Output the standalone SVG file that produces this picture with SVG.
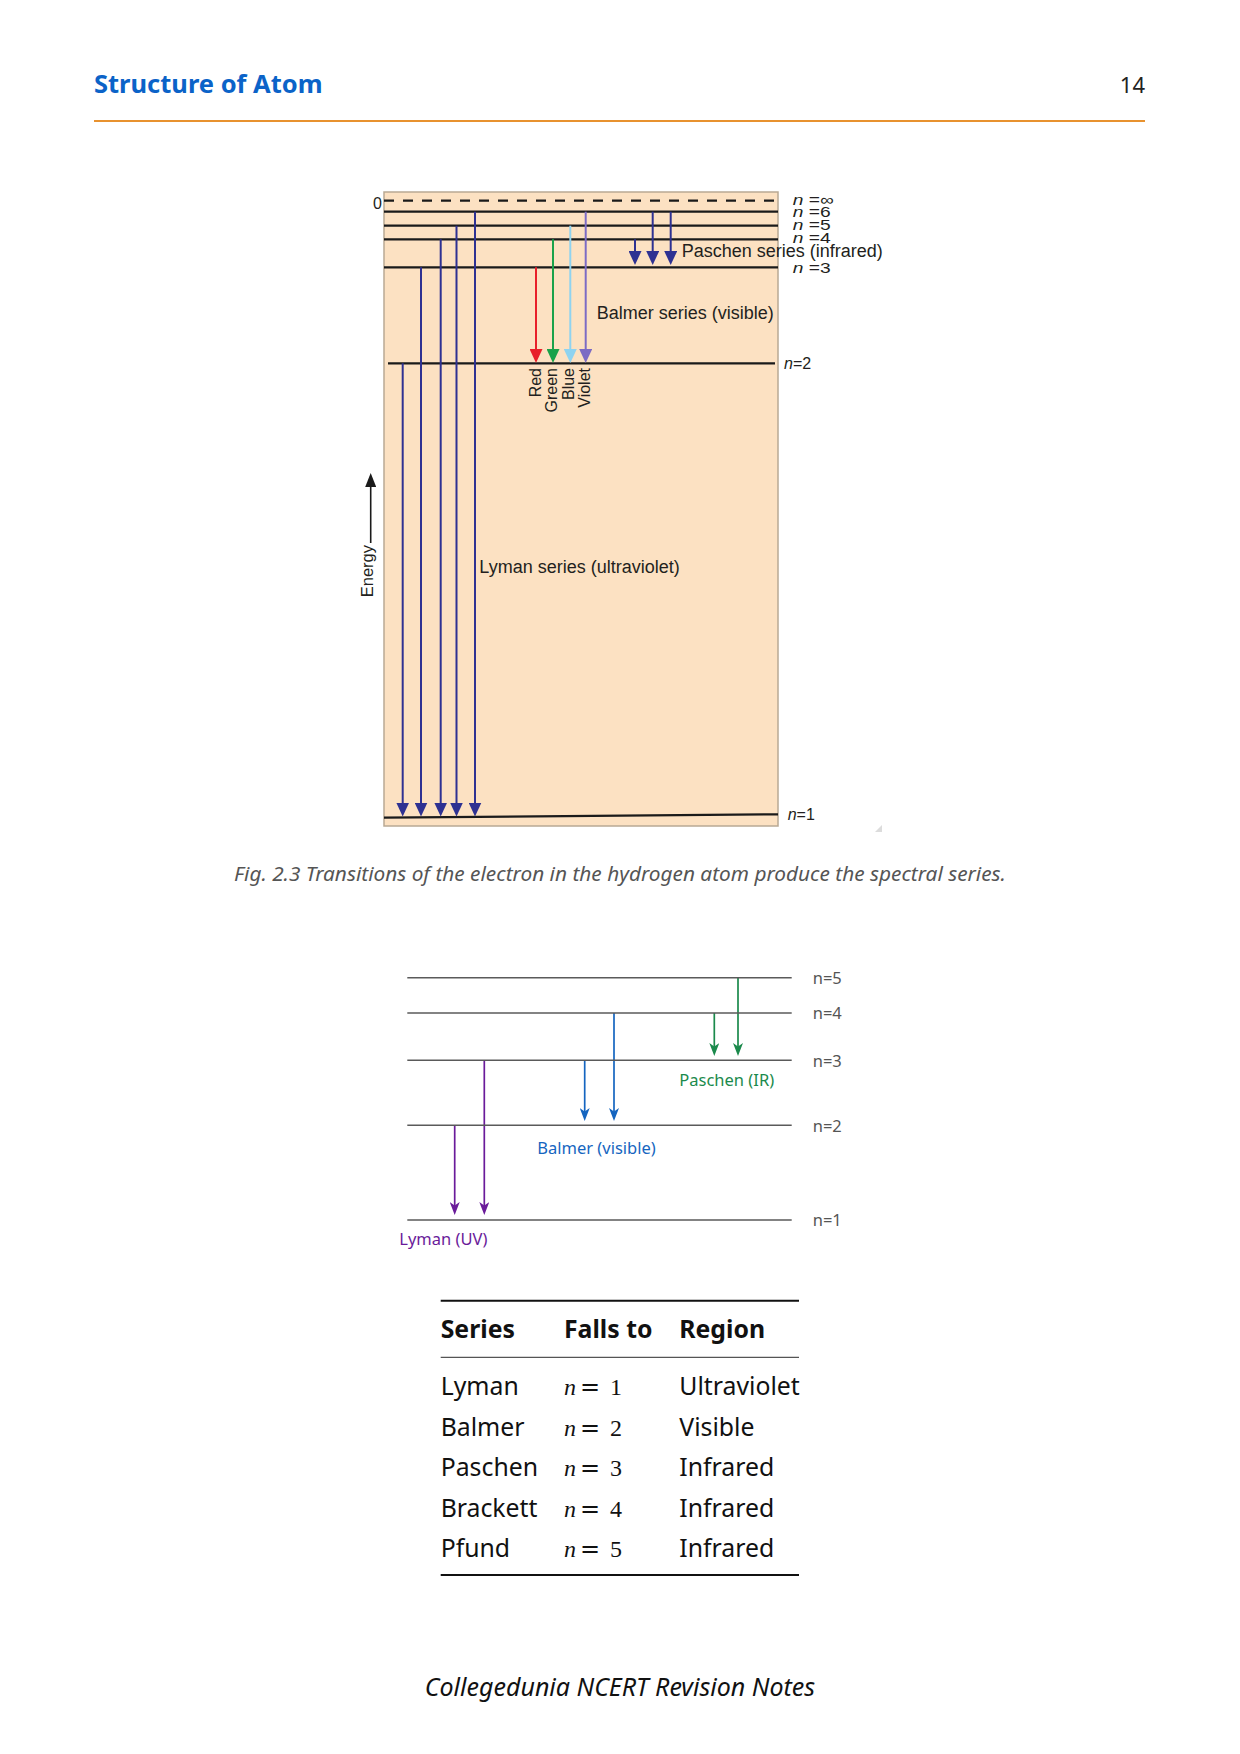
<svg xmlns="http://www.w3.org/2000/svg" width="1240" height="1754" viewBox="0 0 1240 1754">
<style>
  .hdr{font-family:"Noto Sans","Open Sans",sans-serif}
  .ar{font-family:"Liberation Sans",Arial,sans-serif;fill:#231F20}
  .lvl{stroke:#1A1A1A;stroke-width:2.2;fill:none}
  .ly{stroke:#2E3192;stroke-width:2;fill:none}
  .lv2{stroke:#5A5A5A;stroke-width:1.5;fill:none}
  .ns{font-family:"Noto Sans","Open Sans",sans-serif}
  .tb{font-family:"Noto Sans","Open Sans",sans-serif;font-size:24.8px;fill:#111}
  .mt{font-family:"Liberation Serif","DejaVu Serif",serif;font-size:24px;fill:#111}
  .eq{font-family:"DejaVu Serif","Liberation Serif",serif}
</style>
<defs>
  <marker id="mNavy" markerUnits="userSpaceOnUse" viewBox="0 0 14 13" markerWidth="14" markerHeight="13" refX="8" refY="6.5" orient="auto"><path d="M0,0 L14,6.5 L0,13 z" fill="#2E3192"/></marker>
  <marker id="mRed" markerUnits="userSpaceOnUse" viewBox="0 0 14 13" markerWidth="14" markerHeight="13" refX="8" refY="6.5" orient="auto"><path d="M0,0 L14,6.5 L0,13 z" fill="#E8202A"/></marker>
  <marker id="mGreen" markerUnits="userSpaceOnUse" viewBox="0 0 14 13" markerWidth="14" markerHeight="13" refX="8" refY="6.5" orient="auto"><path d="M0,0 L14,6.5 L0,13 z" fill="#1AA24A"/></marker>
  <marker id="mBlue" markerUnits="userSpaceOnUse" viewBox="0 0 14 13" markerWidth="14" markerHeight="13" refX="8" refY="6.5" orient="auto"><path d="M0,0 L14,6.5 L0,13 z" fill="#8FD3F0"/></marker>
  <marker id="mViolet" markerUnits="userSpaceOnUse" viewBox="0 0 14 13" markerWidth="14" markerHeight="13" refX="8" refY="6.5" orient="auto"><path d="M0,0 L14,6.5 L0,13 z" fill="#7C6BC4"/></marker>
  <marker id="mBlack" markerUnits="userSpaceOnUse" viewBox="0 0 14 11" markerWidth="14" markerHeight="11" refX="8" refY="5.5" orient="auto"><path d="M0,0 L14,5.5 L0,11 z" fill="#1A1A1A"/></marker>
  <marker id="sPurple" markerUnits="userSpaceOnUse" viewBox="0 0 13 10" markerWidth="13" markerHeight="10" refX="9" refY="5" orient="auto"><path d="M0,0 L13,5 L0,10 L3.5,5 z" fill="#6A1B9A"/></marker>
  <marker id="sBlue" markerUnits="userSpaceOnUse" viewBox="0 0 13 10" markerWidth="13" markerHeight="10" refX="9" refY="5" orient="auto"><path d="M0,0 L13,5 L0,10 L3.5,5 z" fill="#1565C0"/></marker>
  <marker id="sGreen" markerUnits="userSpaceOnUse" viewBox="0 0 13 10" markerWidth="13" markerHeight="10" refX="9" refY="5" orient="auto"><path d="M0,0 L13,5 L0,10 L3.5,5 z" fill="#1B8A4C"/></marker>
</defs>
<rect width="1240" height="1754" fill="#FFFFFF"/>

<g id="header">
  <text class="hdr" x="94" y="93" font-size="25.5" font-weight="bold" fill="#0B63C8">Structure of Atom</text>
  <text class="hdr" x="1145" y="93" font-size="22" fill="#222" text-anchor="end">14</text>
  <line x1="94" y1="121" x2="1145" y2="121" stroke="#E8922F" stroke-width="2"/>
</g>

<g id="figure-2-3">
  <rect id="panel" x="384" y="192" width="394" height="634" fill="#FCE1C2" stroke="#B9A994" stroke-width="1.5"/>
  <g id="levels">
    <line class="lvl" x1="384" y1="200.7" x2="777" y2="200.7" stroke-dasharray="10 9"/>
    <line class="lvl" x1="384" y1="211.7" x2="778" y2="211.7"/>
    <line class="lvl" x1="384" y1="225.7" x2="778" y2="225.7"/>
    <line class="lvl" x1="384" y1="239.3" x2="778" y2="239.3"/>
    <line class="lvl" x1="384" y1="267.3" x2="778" y2="267.3"/>
    <line class="lvl" x1="388" y1="363.3" x2="775" y2="363.3" stroke-width="1.8"/>
    <line class="lvl" x1="384" y1="817.7" x2="778" y2="814.3"/>
  </g>
  <g id="level-labels" class="ar" font-size="15">
    <text x="382" y="209" font-size="16" text-anchor="end">0</text>
    <text transform="translate(792.7,205) scale(1.28,1)"><tspan font-style="italic">n</tspan> =∞</text>
    <text transform="translate(792.7,217) scale(1.28,1)"><tspan font-style="italic">n</tspan> =6</text>
    <text transform="translate(792.7,230) scale(1.28,1)"><tspan font-style="italic">n</tspan> =5</text>
    <text transform="translate(792.7,243.3) scale(1.28,1)"><tspan font-style="italic">n</tspan> =4</text>
    <text transform="translate(792.7,272.7) scale(1.28,1)"><tspan font-style="italic">n</tspan> =3</text>
    <text x="784" y="369" font-size="16"><tspan font-style="italic">n</tspan>=2</text>
    <text x="787.7" y="820" font-size="16"><tspan font-style="italic">n</tspan>=1</text>
  </g>
  <g id="series-labels" class="ar" font-size="18">
    <text x="681.7" y="257.3">Paschen series (infrared)</text>
    <text x="596.7" y="319">Balmer series (visible)</text>
    <text x="479.3" y="572.7">Lyman series (ultraviolet)</text>
  </g>
  <g id="colour-labels" class="ar" font-size="16" text-anchor="end">
    <text transform="translate(541,368) rotate(-90)">Red</text>
    <text transform="translate(557,368) rotate(-90)">Green</text>
    <text transform="translate(573.5,368) rotate(-90)">Blue</text>
    <text transform="translate(589.5,368) rotate(-90)">Violet</text>
  </g>
  <g id="energy-axis">
    <text class="ar" font-size="16.5" text-anchor="end" transform="translate(373,545) rotate(-90)">Energy</text>
    <line x1="370.7" y1="543" x2="370.7" y2="479" stroke="#1A1A1A" stroke-width="1.6" marker-end="url(#mBlack)"/>
  </g>
  <polygon points="882,825 882,832 875,832" fill="#DCDCDC"/>
</g>

<g id="connectors">
  <g id="lyman-arrows" class="ly">
    <line x1="402.7" y1="363.3" x2="402.7" y2="810.5" marker-end="url(#mNavy)"/>
    <line x1="421" y1="267.3" x2="421" y2="810.5" marker-end="url(#mNavy)"/>
    <line x1="440.7" y1="239.3" x2="440.7" y2="810.5" marker-end="url(#mNavy)"/>
    <line x1="456.5" y1="225.7" x2="456.5" y2="810.5" marker-end="url(#mNavy)"/>
    <line x1="475" y1="211.7" x2="475" y2="810.5" marker-end="url(#mNavy)"/>
  </g>
  <g id="balmer-arrows" stroke-width="2" fill="none">
    <line x1="536" y1="267.3" x2="536" y2="357" stroke="#E8202A" marker-end="url(#mRed)"/>
    <line x1="553" y1="239.3" x2="553" y2="357" stroke="#1AA24A" marker-end="url(#mGreen)"/>
    <line x1="570.3" y1="225.7" x2="570.3" y2="357" stroke="#8FD3F0" marker-end="url(#mBlue)"/>
    <line x1="585.7" y1="211.7" x2="585.7" y2="357" stroke="#7C6BC4" marker-end="url(#mViolet)"/>
  </g>
  <g id="paschen-arrows" class="ly">
    <line x1="635" y1="239.3" x2="635" y2="259" marker-end="url(#mNavy)"/>
    <line x1="652.7" y1="211.7" x2="652.7" y2="259" marker-end="url(#mNavy)"/>
    <line x1="670.7" y1="211.7" x2="670.7" y2="259" marker-end="url(#mNavy)"/>
  </g>
  <g id="simple-arrows" stroke-width="1.7" fill="none">
    <line x1="454.7" y1="1125.3" x2="454.7" y2="1211" stroke="#6A1B9A" marker-end="url(#sPurple)"/>
    <line x1="484.3" y1="1060.3" x2="484.3" y2="1211" stroke="#6A1B9A" marker-end="url(#sPurple)"/>
    <line x1="584.7" y1="1060.3" x2="584.7" y2="1117" stroke="#1565C0" marker-end="url(#sBlue)"/>
    <line x1="614" y1="1013" x2="614" y2="1117" stroke="#1565C0" marker-end="url(#sBlue)"/>
    <line x1="714.3" y1="1013" x2="714.3" y2="1052" stroke="#1B8A4C" marker-end="url(#sGreen)"/>
    <line x1="738" y1="977.7" x2="738" y2="1052" stroke="#1B8A4C" marker-end="url(#sGreen)"/>
  </g>
</g>

<g id="caption">
  <text class="ns" x="620" y="881" font-size="20.8" font-style="italic" fill="#555" text-anchor="middle">Fig. 2.3 Transitions of the electron in the hydrogen atom produce the spectral series.</text>
</g>

<g id="simple-diagram">
  <g id="simple-levels">
    <line class="lv2" x1="407.3" y1="977.7" x2="791.7" y2="977.7"/>
    <line class="lv2" x1="407.3" y1="1013" x2="791.7" y2="1013"/>
    <line class="lv2" x1="407.3" y1="1060.3" x2="791.7" y2="1060.3"/>
    <line class="lv2" x1="407.3" y1="1125.3" x2="791.7" y2="1125.3"/>
    <line class="lv2" x1="407.3" y1="1220" x2="791.7" y2="1220"/>
  </g>
  <g id="simple-level-labels" class="ns" font-size="16.5" fill="#555">
    <text x="812.7" y="983.5">n=5</text>
    <text x="812.7" y="1019">n=4</text>
    <text x="812.7" y="1066.5">n=3</text>
    <text x="812.7" y="1131.5">n=2</text>
    <text x="812.7" y="1226">n=1</text>
  </g>
  <g id="simple-series-labels" class="ns" font-size="16.5">
    <text x="679.3" y="1086" fill="#1B8A4C">Paschen (IR)</text>
    <text x="537.3" y="1154" fill="#1565C0">Balmer (visible)</text>
    <text x="399.3" y="1245" fill="#6A1B9A">Lyman (UV)</text>
  </g>
</g>

<g id="series-table">
  <line x1="440.7" y1="1300.7" x2="799" y2="1300.7" stroke="#111" stroke-width="2"/>
  <line x1="440.7" y1="1357.3" x2="799" y2="1357.3" stroke="#555" stroke-width="1.3"/>
  <line x1="440.7" y1="1575" x2="799" y2="1575" stroke="#111" stroke-width="2"/>
  <g class="tb" font-weight="bold" font-size="25.5">
    <text x="440.7" y="1338.3">Series</text>
    <text x="564" y="1338.3">Falls to</text>
    <text x="679.3" y="1338.3">Region</text>
  </g>
  <g class="tb">
    <text x="440.7" y="1395">Lyman</text>
    <text x="440.7" y="1435.5">Balmer</text>
    <text x="440.7" y="1476">Paschen</text>
    <text x="440.7" y="1516.5">Brackett</text>
    <text x="440.7" y="1557">Pfund</text>
    <text x="679.3" y="1395">Ultraviolet</text>
    <text x="679.3" y="1435.5">Visible</text>
    <text x="679.3" y="1476">Infrared</text>
    <text x="679.3" y="1516.5">Infrared</text>
    <text x="679.3" y="1557">Infrared</text>
  </g>
  <g class="mt">
    <text y="1395"><tspan x="564" font-style="italic">n</tspan><tspan class="eq" x="580">=</tspan><tspan x="610">1</tspan></text>
    <text y="1435.5"><tspan x="564" font-style="italic">n</tspan><tspan class="eq" x="580">=</tspan><tspan x="610">2</tspan></text>
    <text y="1476"><tspan x="564" font-style="italic">n</tspan><tspan class="eq" x="580">=</tspan><tspan x="610">3</tspan></text>
    <text y="1516.5"><tspan x="564" font-style="italic">n</tspan><tspan class="eq" x="580">=</tspan><tspan x="610">4</tspan></text>
    <text y="1557"><tspan x="564" font-style="italic">n</tspan><tspan class="eq" x="580">=</tspan><tspan x="610">5</tspan></text>
  </g>
</g>

<g id="footer">
  <text class="ns" x="620" y="1696" font-size="25" font-style="italic" fill="#111" text-anchor="middle">Collegedunia NCERT Revision Notes</text>
</g>
</svg>
